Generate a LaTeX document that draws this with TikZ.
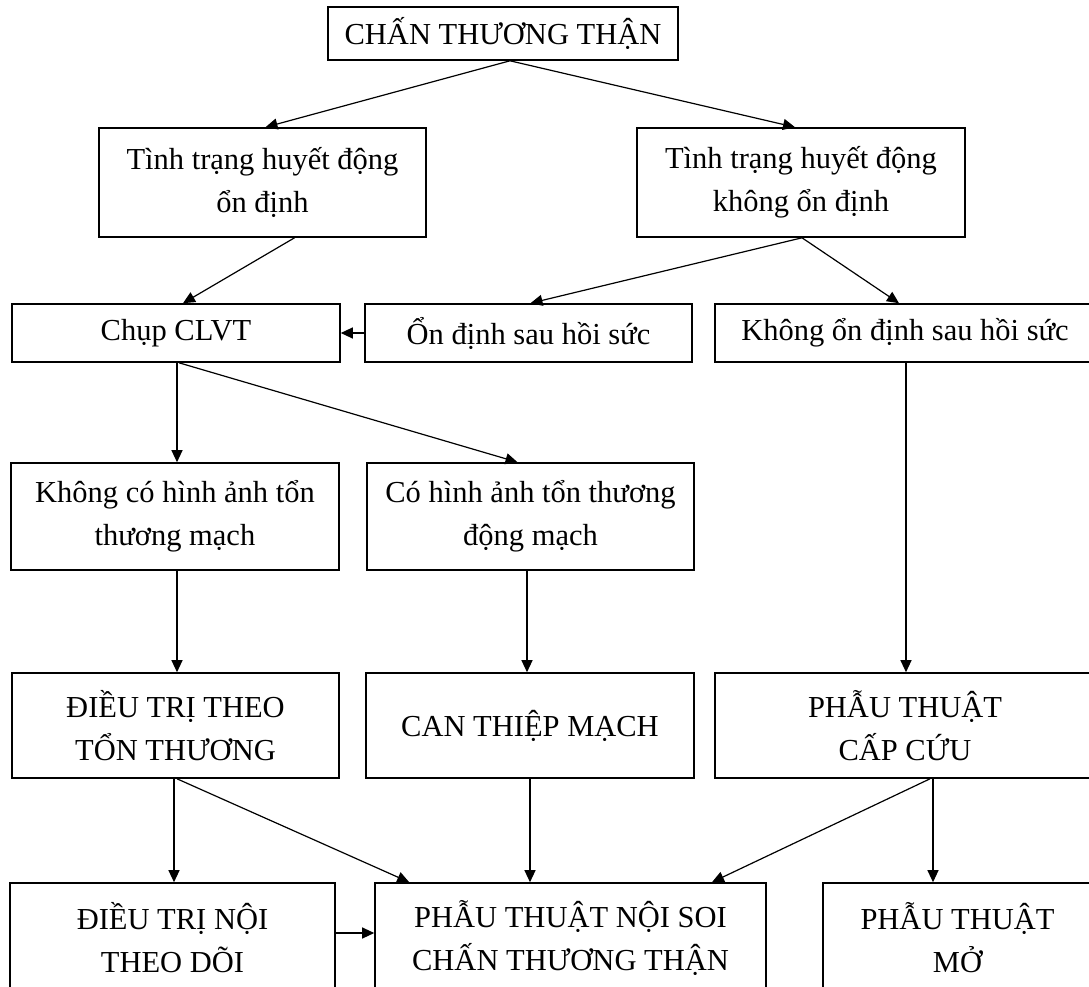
\documentclass[tikz,border=0pt]{standalone}
\usepackage{fontspec}
\setmainfont{Liberation Serif}
\usetikzlibrary{arrows.meta}
\begin{document}
\begin{tikzpicture}[x=1pt,y=-1pt,
 box/.style={draw, line width=1.6pt, rectangle, inner sep=0pt, align=center, font=\fontsize{30.5}{43}\selectfont},
 arr/.style={line width=1.2pt, -{Triangle[length=12pt,width=11pt]}}]
\clip (0,0) rectangle (1089,987);
\fill[white] (0,0) rectangle (1089,987);
% row 0
\node[box, minimum width=350pt, minimum height=53pt] (top) at (503,33.5) {CHẤN THƯƠNG THẬN};
% row 1
\node[box, minimum width=327pt, minimum height=109pt] (l1) at (262.5,182.5) {Tình trạng huyết động\\ổn định};
\node[box, minimum width=328pt, minimum height=109pt] (r1) at (801,182.5) {Tình trạng huyết động\\không ổn định};
% row 2
\node[box, minimum width=328pt, minimum height=58pt] (chup) at (176,333) {Chụp CLVT};
\node[box, minimum width=327pt, minimum height=58pt] (ond) at (528.5,333) {Ổn định sau hồi sức};
\node[box, minimum width=380pt, minimum height=58pt] (kond) at (905,333) {Không ổn định sau hồi sức};
% row 3
\node[box, minimum width=328pt, minimum height=107pt] (kco) at (175,516.5) {Không có hình ảnh tổn\\thương mạch};
\node[box, minimum width=327pt, minimum height=107pt] (co) at (530.5,516.5) {Có hình ảnh tổn thương\\động mạch};
% row 4
\node[box, minimum width=327pt, minimum height=105pt] (dt) at (175.5,725.5) {ĐIỀU TRỊ THEO\\TỔN THƯƠNG};
\node[box, minimum width=328pt, minimum height=105pt] (ct) at (530,725.5) {CAN THIỆP MẠCH};
\node[box, minimum width=380pt, minimum height=105pt] (pt) at (905,725.5) {PHẪU THUẬT\\CẤP CỨU};
% row 5
\node[box, minimum width=325pt, minimum height=109pt] (dtn) at (172.5,937.5) {ĐIỀU TRỊ NỘI\\THEO DÕI};
\node[box, minimum width=391pt, minimum height=109pt] (ns) at (570.5,937.5) {PHẪU THUẬT NỘI SOI\\CHẤN THƯƠNG THẬN};
\node[box, minimum width=269pt, minimum height=109pt] (mo) at (957.5,937.5) {PHẪU THUẬT\\MỞ};
% connectors
\draw[arr] ([xshift=7pt]top.south) -- ([xshift=3pt]l1.north);
\draw[arr] ([xshift=7pt]top.south) -- ([xshift=-6pt]r1.north);
\draw[arr] ([xshift=32pt]l1.south) -- ([xshift=7pt]chup.north);
\draw[arr] ([xshift=1pt]r1.south) -- ([xshift=2pt]ond.north);
\draw[arr] ([xshift=1pt]r1.south) -- ([xshift=-6pt]kond.north);
\draw[arr] (ond.west) -- (chup.east);
\draw[arr] ([xshift=1pt]chup.south) -- ([xshift=2pt]kco.north);
\draw[arr] ([xshift=3pt]chup.south) -- ([xshift=-13pt]co.north);
\draw[arr] ([xshift=1pt]kond.south) -- ([xshift=1pt]pt.north);
\draw[arr] ([xshift=2pt]kco.south) -- ([xshift=1.5pt]dt.north);
\draw[arr] ([xshift=-3.5pt]co.south) -- ([xshift=-3pt]ct.north);
\draw[arr] ([xshift=-1.5pt]dt.south) -- ([xshift=1.5pt]dtn.north);
\draw[arr] ([xshift=1.5pt]dt.south) -- ([xshift=35pt]ns.north west);
\draw[arr] (ct.south) -- ([xshift=-40.5pt]ns.north);
\draw[arr] ([xshift=25pt]pt.south) -- ([xshift=141.5pt]ns.north);
\draw[arr] ([xshift=28pt]pt.south) -- ([xshift=-24.5pt]mo.north);
\draw[arr] ([yshift=4.5pt]dtn.east) -- ([yshift=4.5pt]ns.west);
\end{tikzpicture}
\end{document}
